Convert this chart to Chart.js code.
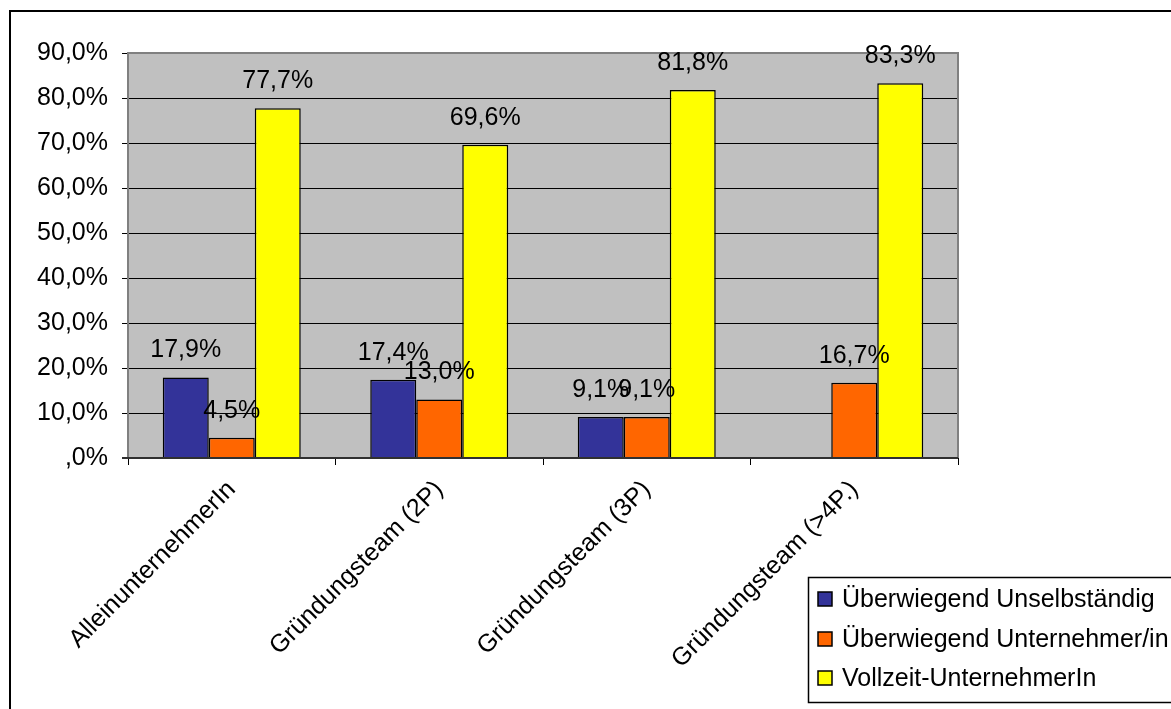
<!DOCTYPE html>
<html>
<head>
<meta charset="utf-8">
<script src="https://cdn.jsdelivr.net/npm/chart.js@4.4.1/dist/chart.umd.min.js"></script>
<style>
  html, body { margin: 0; padding: 0; background: #fff; }
  #wrap { width: 1171px; height: 709px; }
</style>
</head>
<body>
<div id="wrap"><canvas id="myChart" width="1171" height="709"></canvas></div>
<script>
// data
const categories = ['AlleinunternehmerIn', 'Gründungsteam (2P)', 'Gründungsteam (3P)', 'Gründungsteam (>4P.)'];
const unselbstaendig = [17.9, 17.4, 9.1, null];
const unternehmer    = [4.5, 13.0, 9.1, 16.7];
const vollzeit       = [77.7, 69.6, 81.8, 83.3];
const seriesNames = ['Überwiegend Unselbständig', 'Überwiegend Unternehmer/in', 'Vollzeit-UnternehmerIn'];
const seriesColors = ['#333399', '#FF6600', '#FFFF00'];
const yTicks = [0, 10, 20, 30, 40, 50, 60, 70, 80, 90];

const FONT = '"Liberation Sans", Arial, sans-serif';
const FSIZE = 25;
Chart.defaults.font.family = FONT;
Chart.defaults.font.size = FSIZE;
Chart.defaults.color = '#000';

function pct(v) {
  if (v === 0) return ',0%';
  return v.toFixed(1).replace('.', ',') + '%';
}

// grey plot background + outer frame
const backdrop = {
  id: 'backdrop',
  beforeDraw(chart) {
    const c = chart.ctx, a = chart.chartArea;
    c.save();
    c.fillStyle = '#fff';
    c.fillRect(0, 0, chart.width, chart.height);
    c.fillStyle = '#C0C0C0';
    c.fillRect(a.left, a.top, a.right - a.left, a.bottom - a.top);
    c.strokeStyle = '#000';
    c.lineWidth = 2;
    c.strokeRect(10, 11, 1300, 900);
    c.restore();
  },
  beforeDatasetsDraw(chart) {
    const c = chart.ctx, a = chart.chartArea;
    c.save();
    c.strokeStyle = '#808080';
    c.lineWidth = 2;
    c.beginPath();
    c.moveTo(a.left, a.bottom);
    c.lineTo(a.left, a.top);
    c.lineTo(a.right, a.top);
    c.lineTo(a.right, a.bottom);
    c.stroke();
    c.restore();
  }
};

// value labels over the bars
const valueLabels = {
  id: 'valueLabels',
  afterDatasetsDraw(chart) {
    const c = chart.ctx;
    c.save();
    c.font = FSIZE + 'px ' + FONT;
    c.fillStyle = '#000';
    c.textAlign = 'center';
    c.textBaseline = 'middle';
    chart.data.datasets.forEach((ds, i) => {
      chart.getDatasetMeta(i).data.forEach((bar, j) => {
        const v = ds.data[j];
        if (v === null) return;
        c.fillText(pct(v), bar.x, bar.y - 27);
      });
    });
    // axis line at the bottom
    const a = chart.chartArea;
    c.strokeStyle = '#303030';
    c.lineWidth = 2;
    c.beginPath();
    c.moveTo(a.left - 6, a.bottom);
    c.lineTo(a.right, a.bottom);
    c.stroke();
    c.restore();
  }
};

// boxed legend at bottom right
const boxLegend = {
  id: 'boxLegend',
  afterDraw(chart) {
    const c = chart.ctx;
    c.save();
    c.strokeStyle = '#000';
    c.lineWidth = 1.5;
    c.strokeRect(808.5, 577.5, 500, 125);
    c.font = FSIZE + 'px ' + FONT;
    c.textBaseline = 'middle';
    c.textAlign = 'left';
    const ys = [599, 639, 678];
    chart.data.datasets.forEach((ds, i) => {
      c.fillStyle = ds.backgroundColor;
      c.fillRect(818, ys[i] - 7, 14, 14);
      c.strokeStyle = '#000';
      c.lineWidth = 1.5;
      c.strokeRect(818, ys[i] - 7, 14, 14);
      c.fillStyle = '#000';
      c.fillText(ds.label, 842, ys[i] + 1);
    });
    c.restore();
  }
};

const ctx = document.getElementById('myChart').getContext('2d');
const chart = new Chart(ctx, {
  type: 'bar',
  data: {
    labels: categories,
    datasets: [unselbstaendig, unternehmer, vollzeit].map((d, i) => ({
      label: seriesNames[i],
      data: d,
      backgroundColor: seriesColors[i],
      borderColor: '#000',
      borderWidth: 1.5,
      categoryPercentage: 0.665,
      barPercentage: 1.0
    }))
  },
  options: {
    responsive: false,
    animation: false,
    events: [],
    layout: { padding: { left: 10, top: 53, right: 213, bottom: 0 } },
    plugins: { legend: { display: false }, tooltip: { enabled: false } },
    scales: {
      x: {
        grid: { display: true, drawOnChartArea: false, drawTicks: true, tickLength: 7, color: '#000', offset: true },
        border: { display: false },
        ticks: { minRotation: 45, maxRotation: 45, autoSkip: false, padding: 10 },
        afterFit(scale) { scale.height = 251; }
      },
      y: {
        min: 0,
        max: 90,
        afterBuildTicks(scale) { scale.ticks = yTicks.map(v => ({ value: v })); },
        grid: { color: '#000', lineWidth: 1, tickLength: 6 },
        border: { display: false },
        ticks: { callback: v => pct(v), padding: 14 },
        afterFit(scale) { scale.width = 118; }
      }
    }
  },
  plugins: [backdrop, valueLabels, boxLegend]
});
</script>
</body>
</html>
